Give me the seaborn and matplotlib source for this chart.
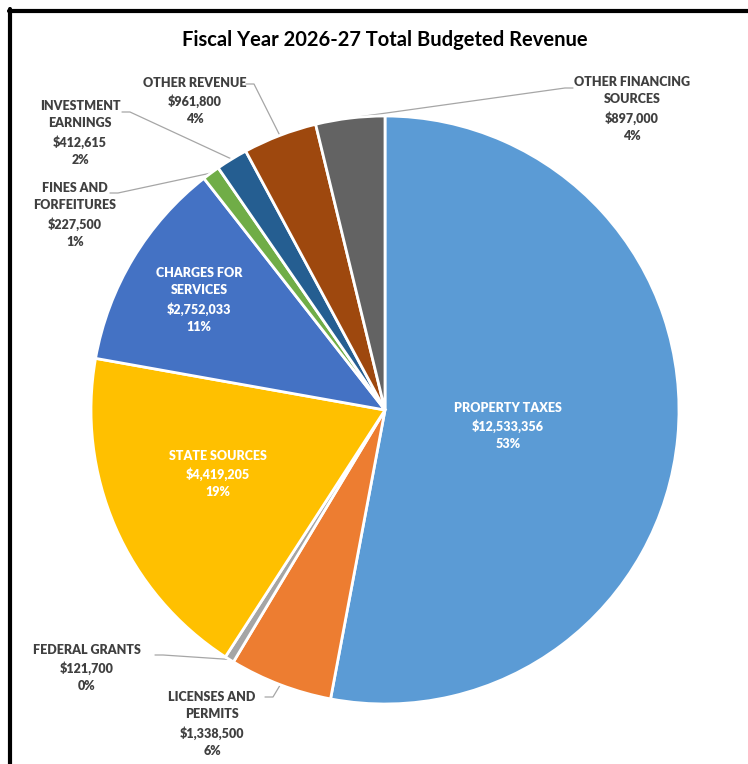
"""
plot.py
=======
Fiscal Year 2026-27 Total Budgeted Revenue, pie chart with Excel-style labels.
"""

import numpy as np
import matplotlib.pyplot as plt
import seaborn as sns
from matplotlib.lines import Line2D

sns.set_theme(style="white")
plt.rcParams['font.family'] = ['Lato', 'DejaVu Sans']

# Data (clockwise from 12 o'clock)
categories = [
    "PROPERTY TAXES", "LICENSES AND\nPERMITS", "FEDERAL GRANTS", "STATE SOURCES",
    "CHARGES FOR\nSERVICES", "FINES AND\nFORFEITURES", "INVESTMENT\nEARNINGS",
    "OTHER REVENUE", "OTHER FINANCING\nSOURCES",
]
amounts = [12533356, 1338500, 121700, 4419205, 2752033, 227500, 412615, 961800, 897000]
percents = [53, 6, 0, 19, 11, 1, 2, 4, 4]   # as printed on the chart
colors = ["#5B9BD5", "#ED7D31", "#A5A5A5", "#FFC000", "#4472C4",
          "#70AD47", "#255E91", "#9E480E", "#636363"]

# Layout in pixels (from top-left): pie centre / radius, label centres
W, H = 748, 764
CX, CY, R = 385, 410, 294
inside = [True, False, False, True, True, False, False, False, False]
label_xy = [(508, 426), (212, 724), (87, 668), (218, 474), (199, 300),
            (75, 215), (80, 133), (195, 101), (632, 109)]
# leader line start (at the text side)
leader_from = [None, (265, 697), (155, 655), None, None,
               (110, 193), (122, 112), (246, 84), (573, 88)]
leader_dir = [0, 1, 1, 0, 0, 1, 1, 1, -1]

fig = plt.figure(figsize=(W / 100, H / 100), dpi=100)
ax = fig.add_axes([0, 0, 1, 1])

wedges, _ = ax.pie(
    amounts, colors=colors, startangle=90, counterclock=False,
    center=(CX, H - CY), radius=R,
    wedgeprops=dict(edgecolor='white', linewidth=2),
)
ax.set_xlim(0, W)
ax.set_ylim(0, H)
ax.set_aspect('equal')
ax.axis('off')

for i, w in enumerate(wedges):
    text = f"{categories[i]}\n${amounts[i]:,}\n{percents[i]}%"
    lx, ly = label_xy[i]
    ax.text(lx, H - ly, text, ha='center', va='center', fontsize=9.0,
            fontweight='heavy', color='white' if inside[i] else '#404040',
            linespacing=1.5)
    if leader_from[i] is not None:
        mid = np.deg2rad((w.theta1 + w.theta2) / 2)
        px = CX + R * np.cos(mid)
        py = (H - CY) + R * np.sin(mid)
        sx, sy = leader_from[i]
        ax.plot([sx, sx + 8 * leader_dir[i], px], [H - sy, H - sy, py],
                color='#A6A6A6', linewidth=0.9, zorder=0.5)

ax.text(385, H - 40, "Fiscal Year 2026-27 Total Budgeted Revenue",
        ha='center', va='center', fontsize=14.5, fontweight='bold', color='black')

# Chart frame (left and top edges visible)
fig.add_artist(Line2D([10 / W, 10 / W], [0, 1 - 9 / H], color='black',
                      linewidth=3, transform=fig.transFigure))
fig.add_artist(Line2D([8.5 / W, 1], [1 - 11 / H, 1 - 11 / H], color='black',
                      linewidth=3, transform=fig.transFigure))

plt.savefig('out.png', dpi=100)
